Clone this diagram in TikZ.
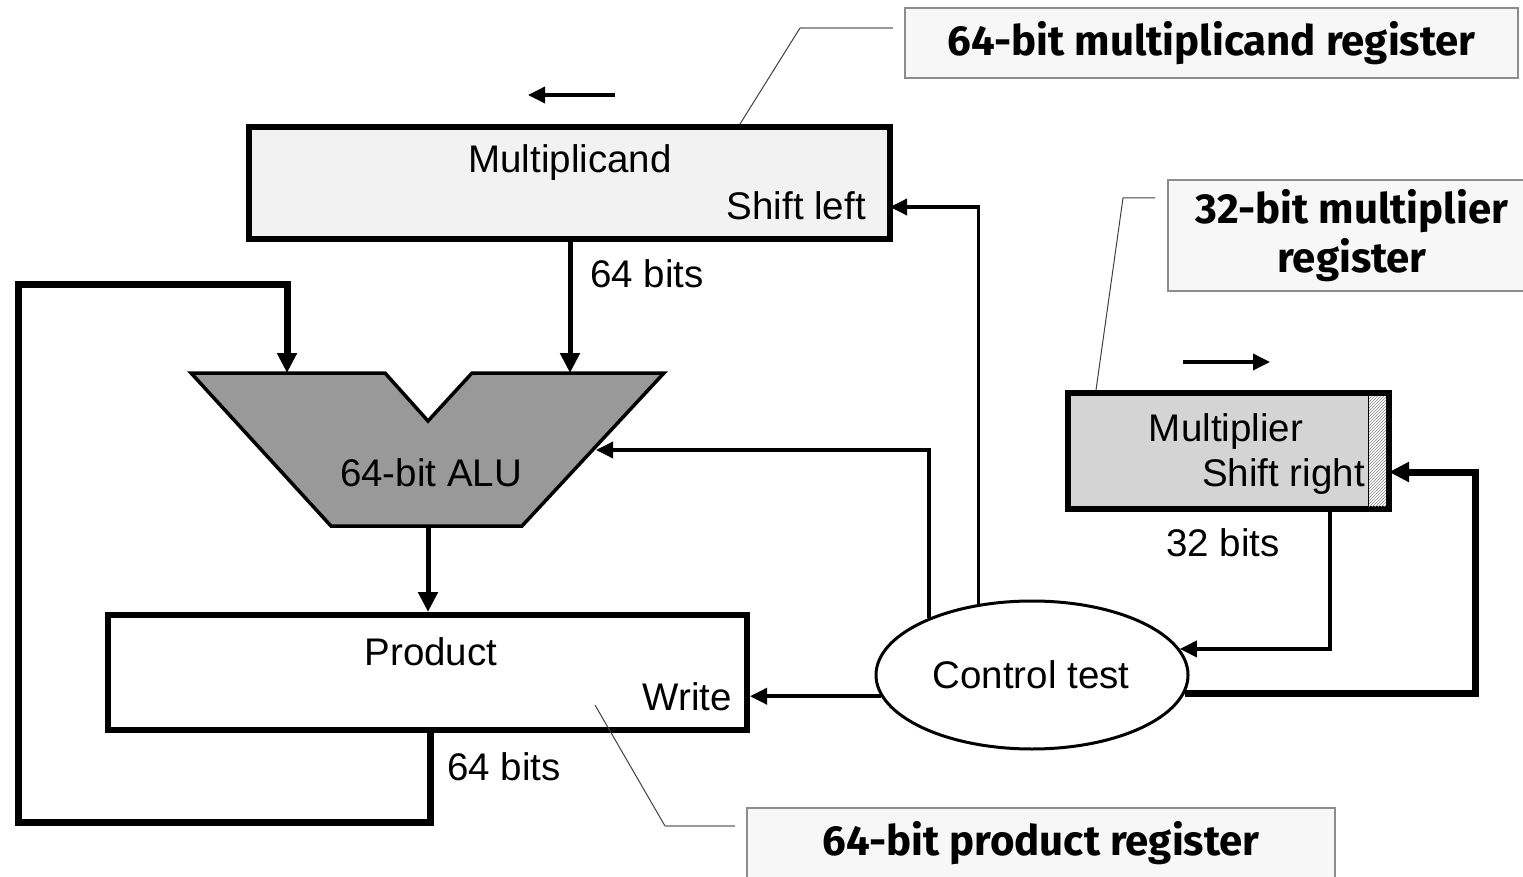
\documentclass[tikz,border=0pt]{standalone}
\usepackage{fontspec}
\setmainfont{Liberation Sans}
\newfontfamily\notefont{Fira Sans}
\usetikzlibrary{arrows.meta,shapes.geometric,patterns}

\tikzset{
  regbox/.style={draw=black, line width=6pt, inner sep=0pt},
  lbl/.style={font=\fontsize{38.5}{40}\selectfont, text=black, inner sep=0pt},
  note/.style={draw=black!45, line width=1.5pt, fill=black!3, align=center,
    inner sep=0pt, font=\notefont\bfseries\fontsize{42}{49}\selectfont},
  bus/.style={line width=7pt},
  buslight/.style={line width=5pt},
  ctl/.style={line width=3.5pt},
  tipbig/.style={-{Triangle[length=20pt,width=19pt]}},
  tipsmall/.style={-{Triangle[length=17pt,width=16pt]}},
  leadgray/.style={draw=black!40, line width=2.5pt},
  leadthin/.style={draw=black!75, line width=1pt},
}

\begin{document}
\begin{tikzpicture}[x=1pt,y=-1pt]
\useasboundingbox (0,0) rectangle (1523,877);

% registers
\node[regbox, fill=black!5, minimum width=641pt, minimum height=112pt] (mcand) at (569.5,183) {};
\node[regbox, fill=black!17, minimum width=321pt, minimum height=116pt] (mplier) at (1228.5,451) {};
\node[regbox, fill=white, minimum width=639pt, minimum height=115pt] (prod) at (427.5,672.5) {};

% shift-out bit at the right end of the multiplier
\fill[white] (1368,396) rectangle (1386,506);
\fill[pattern=north east lines, pattern color=black!45] (1368,396) rectangle (1386,506);
\draw[line width=1pt] (1368,396) -- (1368,506);

% ALU
\draw[fill=black!40, line width=3.5pt, line join=miter]
  (191,373) -- (385,373) -- (428,421) -- (472,373) -- (664,373) -- (522,526) -- (331,526) -- cycle;
\coordinate (aluA) at (287,373);
\coordinate (aluB) at (570,373);
\coordinate (aluOut) at (428,526);
\coordinate (aluCtl) at (596,450);

% control
\node[draw, ellipse, line width=3pt, fill=white, minimum width=312pt, minimum height=148pt, inner sep=0pt] (ctrl) at (1032,675) {};

% labels
\node[lbl, anchor=base] at (570,173) {Multiplicand};
\node[lbl, anchor=base east] at (866,220) {Shift left};
\node[lbl, anchor=base west] at (590,288) {64 bits};
\node[lbl, anchor=base] at (431,486) {64-bit ALU};
\node[lbl, anchor=base] at (431,665) {Product};
\node[lbl, anchor=base east] at (732,710) {Write};
\node[lbl, anchor=base west] at (447,780) {64 bits};
\node[lbl, anchor=base] at (1226,441) {Multiplier};
\node[lbl, anchor=base east] at (1365,486) {Shift right};
\node[lbl, anchor=base west] at (1166,556) {32 bits};
\node[lbl, anchor=base] at (1031,688) {Control test};

% datapath
\draw[buslight, tipbig] (mcand.south -| aluB) -- (aluB);
\draw[buslight, tipbig] (aluOut) -- (prod.north -| aluOut);
\coordinate (loopA) at (430,822);
\coordinate (loopB) at (18,285);
\draw[bus, tipbig, line join=miter] (prod.south -| loopA) -- (loopA) -| (loopB) -| (aluA);

% control signals
\coordinate (mcIn) at (890,207);
\coordinate (mpOut) at (1330,509);
\coordinate (mpIn) at (1389,472);
\coordinate (mpTurn) at (1475,472);
\draw[ctl, tipsmall] (ctrl.188) -- (ctrl.188 -| prod.east);
\draw[ctl, tipsmall] (ctrl.151) |- (aluCtl);
\draw[ctl, tipsmall] (ctrl.127) |- (mcIn);
\draw[ctl, tipsmall] (mpOut) |- (ctrl.10);
\draw[bus, tipbig, line join=miter] (ctrl.-7) -- (ctrl.-7 -| mpTurn) -- (mpTurn) -- (mpIn);

% shift directions
\coordinate (slA) at (615,95);
\coordinate (slB) at (528,95);
\draw[ctl, tipsmall] (slA) -- (slB);
\coordinate (srA) at (1183,362);
\coordinate (srB) at (1270,362);
\draw[ctl, tipsmall] (srA) -- (srB);

% callouts
\node[note, minimum width=613pt, minimum height=70pt] (n1) at (1211.5,43) {64-bit multiplicand register};
\node[note, minimum width=368pt, minimum height=111pt] (n2) at (1352,235.5) {32-bit multiplier\\register};
\node[note, minimum width=588pt, minimum height=70pt] (n3) at (1041,843) {64-bit product register};

\coordinate (l1a) at (893,28);
\coordinate (l1b) at (800,28);
\coordinate (l1c) at (740,124);
\draw[leadgray] (l1a) -- (l1b);
\draw[leadthin] (l1b) -- (l1c);
\coordinate (l2a) at (1155,198);
\coordinate (l2b) at (1123,198);
\coordinate (l2c) at (1096,390);
\draw[leadthin] (l2a) -- (l2b) -- (l2c);
\coordinate (l3a) at (595,705);
\coordinate (l3b) at (665,826);
\coordinate (l3c) at (735,826);
\draw[leadthin] (l3a) -- (l3b);
\draw[leadgray] (l3b) -- (l3c);
\end{tikzpicture}
\end{document}
